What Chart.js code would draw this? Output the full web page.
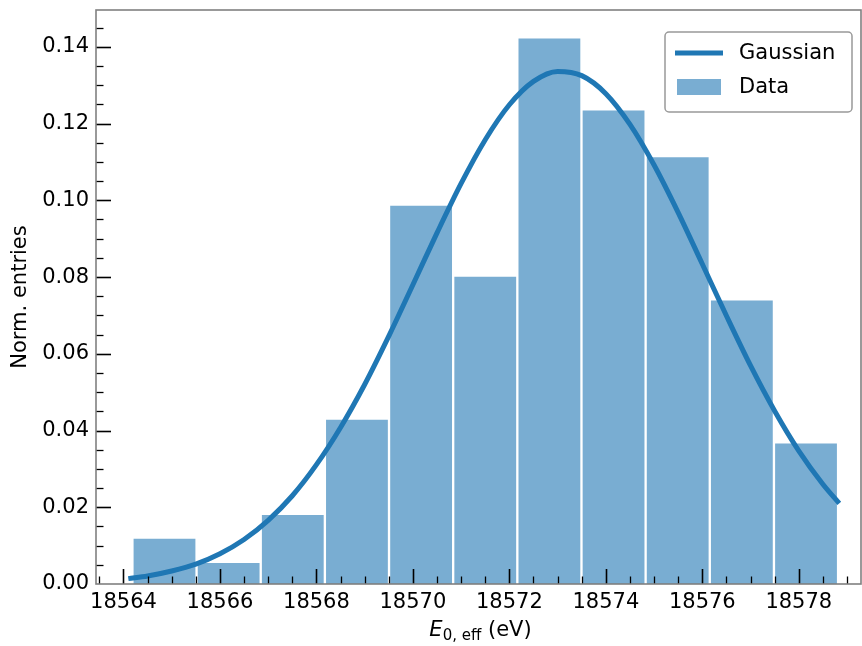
<!DOCTYPE html>
<html lang="en">
<head>
<meta charset="UTF-8">
<title>E0,eff distribution</title>
<script src="https://cdn.jsdelivr.net/npm/chart.js"></script>
<style>
  body { margin: 0; background: #fff; }
  #wrap { width: 862px; height: 646px; }
</style>
</head>
<body>
<div id="wrap"><canvas id="histChart" width="862" height="646"></canvas></div>
<script>
// histogram bins (centres, eV) and normalised entries
const binCenters = [18564.85, 18566.18, 18567.51, 18568.84, 18570.17, 18571.50,
                    18572.83, 18574.16, 18575.49, 18576.82, 18578.15];
const entries = [0.0121, 0.0058, 0.0183, 0.0431, 0.0989, 0.0804,
                 0.1425, 0.1237, 0.1115, 0.0742, 0.0369];

// Gaussian curve
const fitX = [18564.1, 18564.5, 18565.0, 18565.5, 18566.0, 18566.5, 18567.0, 18567.5,
              18568.0, 18568.5, 18569.0, 18569.5, 18570.0, 18570.5, 18571.0, 18571.5,
              18572.0, 18572.5, 18573.0, 18573.5, 18574.0, 18574.5, 18575.0, 18575.5,
              18576.0, 18576.5, 18577.0, 18577.5, 18578.0, 18578.5, 18578.84];
const fitY = [0.0014, 0.0021, 0.0034, 0.0052, 0.0079, 0.0116, 0.0166, 0.0230,
              0.0311, 0.0408, 0.0520, 0.0646, 0.0780, 0.0915, 0.1044, 0.1158,
              0.1249, 0.1310, 0.1336, 0.1325, 0.1278, 0.1198, 0.1092, 0.0968,
              0.0834, 0.0699, 0.0569, 0.0451, 0.0347, 0.0260, 0.0210];

const xTicks = [18564, 18566, 18568, 18570, 18572, 18574, 18576, 18578];
const yTicks = [0, 0.02, 0.04, 0.06, 0.08, 0.10, 0.12, 0.14];

const FONT = 'DejaVu Sans';
const BLUE = '#1f77b4';
Chart.defaults.font.family = FONT;
Chart.defaults.font.size = 21;
Chart.defaults.color = '#000';

// spines, inward ticks, axis titles and legend, matplotlib style
const axesDeco = {
  id: 'axesDeco',
  afterDraw(chart) {
    const { ctx, chartArea: a, scales: { x, y } } = chart;
    ctx.save();

    // x ticks (minor every 0.5, major every 2)
    ctx.strokeStyle = '#000';
    for (let k = 0; k < 40; k++) {
      const v = 18563.5 + 0.5 * k;
      const px = x.getPixelForValue(v);
      if (px < a.left + 1 || px > a.right - 1) continue;
      const major = k % 4 === 1;
      ctx.lineWidth = major ? 1.6 : 1.3;
      ctx.beginPath();
      ctx.moveTo(Math.round(px) + 0.5, a.bottom);
      ctx.lineTo(Math.round(px) + 0.5, a.bottom - (major ? 15 : 7.5));
      ctx.stroke();
    }
    // y ticks (minor every 0.005, major every 0.02)
    for (let k = 0; k < 31; k++) {
      const v = 0.005 * k;
      const py = y.getPixelForValue(v);
      if (py < a.top + 1 || py > a.bottom - 1) continue;
      const major = k % 4 === 0;
      ctx.lineWidth = major ? 1.6 : 1.3;
      ctx.beginPath();
      ctx.moveTo(a.left, Math.round(py) + 0.5);
      ctx.lineTo(a.left + (major ? 15 : 7.5), Math.round(py) + 0.5);
      ctx.stroke();
    }

    // spines
    ctx.strokeStyle = '#808080';
    ctx.lineWidth = 1.6;
    ctx.strokeRect(a.left, a.top, a.right - a.left, a.bottom - a.top);

    // y title
    ctx.fillStyle = '#000';
    ctx.font = '21px ' + FONT;
    ctx.textAlign = 'center';
    ctx.textBaseline = 'middle';
    ctx.save();
    ctx.translate(21, (a.top + a.bottom) / 2);
    ctx.rotate(-Math.PI / 2);
    ctx.fillText('Norm. entries', 0, 0);
    ctx.restore();

    // x title: E_{0, eff} (eV)
    ctx.textAlign = 'left';
    ctx.textBaseline = 'alphabetic';
    const parts = [
      { t: 'E', f: 'italic 21px ' + FONT, dy: 0 },
      { t: '0, eff', f: '15px ' + FONT, dy: 4 },
      { t: ' (eV)', f: '21px ' + FONT, dy: 0 }
    ];
    let total = 0;
    parts.forEach(p => { ctx.font = p.f; p.w = ctx.measureText(p.t).width; total += p.w; });
    let cx = (a.left + a.right) / 2 - total / 2 + 2;
    const base = 636;
    parts.forEach(p => { ctx.font = p.f; ctx.fillText(p.t, cx, base + p.dy); cx += p.w; });

    // legend
    const lx = 665, ly = 32, lw = 187, lh = 80;
    ctx.fillStyle = 'rgba(255,255,255,0.8)';
    ctx.strokeStyle = '#999';
    ctx.lineWidth = 1.5;
    ctx.beginPath();
    ctx.roundRect(lx, ly, lw, lh, 4);
    ctx.fill();
    ctx.stroke();
    const ds = chart.data.datasets;
    ctx.strokeStyle = ds[0].borderColor;
    ctx.lineWidth = ds[0].borderWidth;
    ctx.beginPath();
    ctx.moveTo(675, 53);
    ctx.lineTo(723, 53);
    ctx.stroke();
    ctx.fillStyle = ds[1].backgroundColor;
    ctx.fillRect(677, 79, 44, 16);
    ctx.fillStyle = '#000';
    ctx.font = '21px ' + FONT;
    ctx.textBaseline = 'middle';
    ctx.fillText(ds[0].label, 739, 54);
    ctx.fillText(ds[1].label, 739, 88);

    ctx.restore();
  }
};

new Chart(document.getElementById('histChart'), {
  type: 'bar',
  data: {
    datasets: [
      {
        type: 'line',
        label: 'Gaussian',
        data: fitX.map((v, i) => ({ x: v, y: fitY[i] })),
        borderColor: BLUE,
        borderWidth: 5,
        pointRadius: 0,
        cubicInterpolationMode: 'monotone',
        order: 0
      },
      {
        type: 'bar',
        label: 'Data',
        data: binCenters.map((v, i) => ({ x: v, y: entries[i] })),
        backgroundColor: 'rgba(31,119,180,0.6)',
        borderColor: '#fff',
        borderWidth: 1.5,
        borderSkipped: 'start',
        barPercentage: 1,
        categoryPercentage: 1,
        order: 1
      }
    ]
  },
  options: {
    responsive: false,
    animation: false,
    layout: { padding: { top: 10, right: 1, left: 0, bottom: 0 } },
    plugins: { legend: { display: false }, tooltip: { enabled: false } },
    scales: {
      x: {
        type: 'linear',
        min: 18563.43,
        max: 18579.29,
        offset: false,
        grid: { display: false, drawTicks: false },
        border: { display: false },
        ticks: { autoSkip: false, maxRotation: 0, padding: 6, callback: v => String(v) },
        afterBuildTicks: s => { s.ticks = xTicks.map(v => ({ value: v })); },
        afterFit: s => { s.height = 62; s.paddingLeft = 0; s.paddingRight = 0; }
      },
      y: {
        min: 0,
        max: 0.1496,
        grid: { display: false, drawTicks: false },
        border: { display: false },
        ticks: { padding: 7, callback: v => v.toFixed(2) },
        afterBuildTicks: s => { s.ticks = yTicks.map(v => ({ value: v })); },
        afterFit: s => { s.width = 96; s.paddingTop = 0; s.paddingBottom = 0; }
      }
    }
  },
  plugins: [axesDeco]
});
</script>
</body>
</html>
